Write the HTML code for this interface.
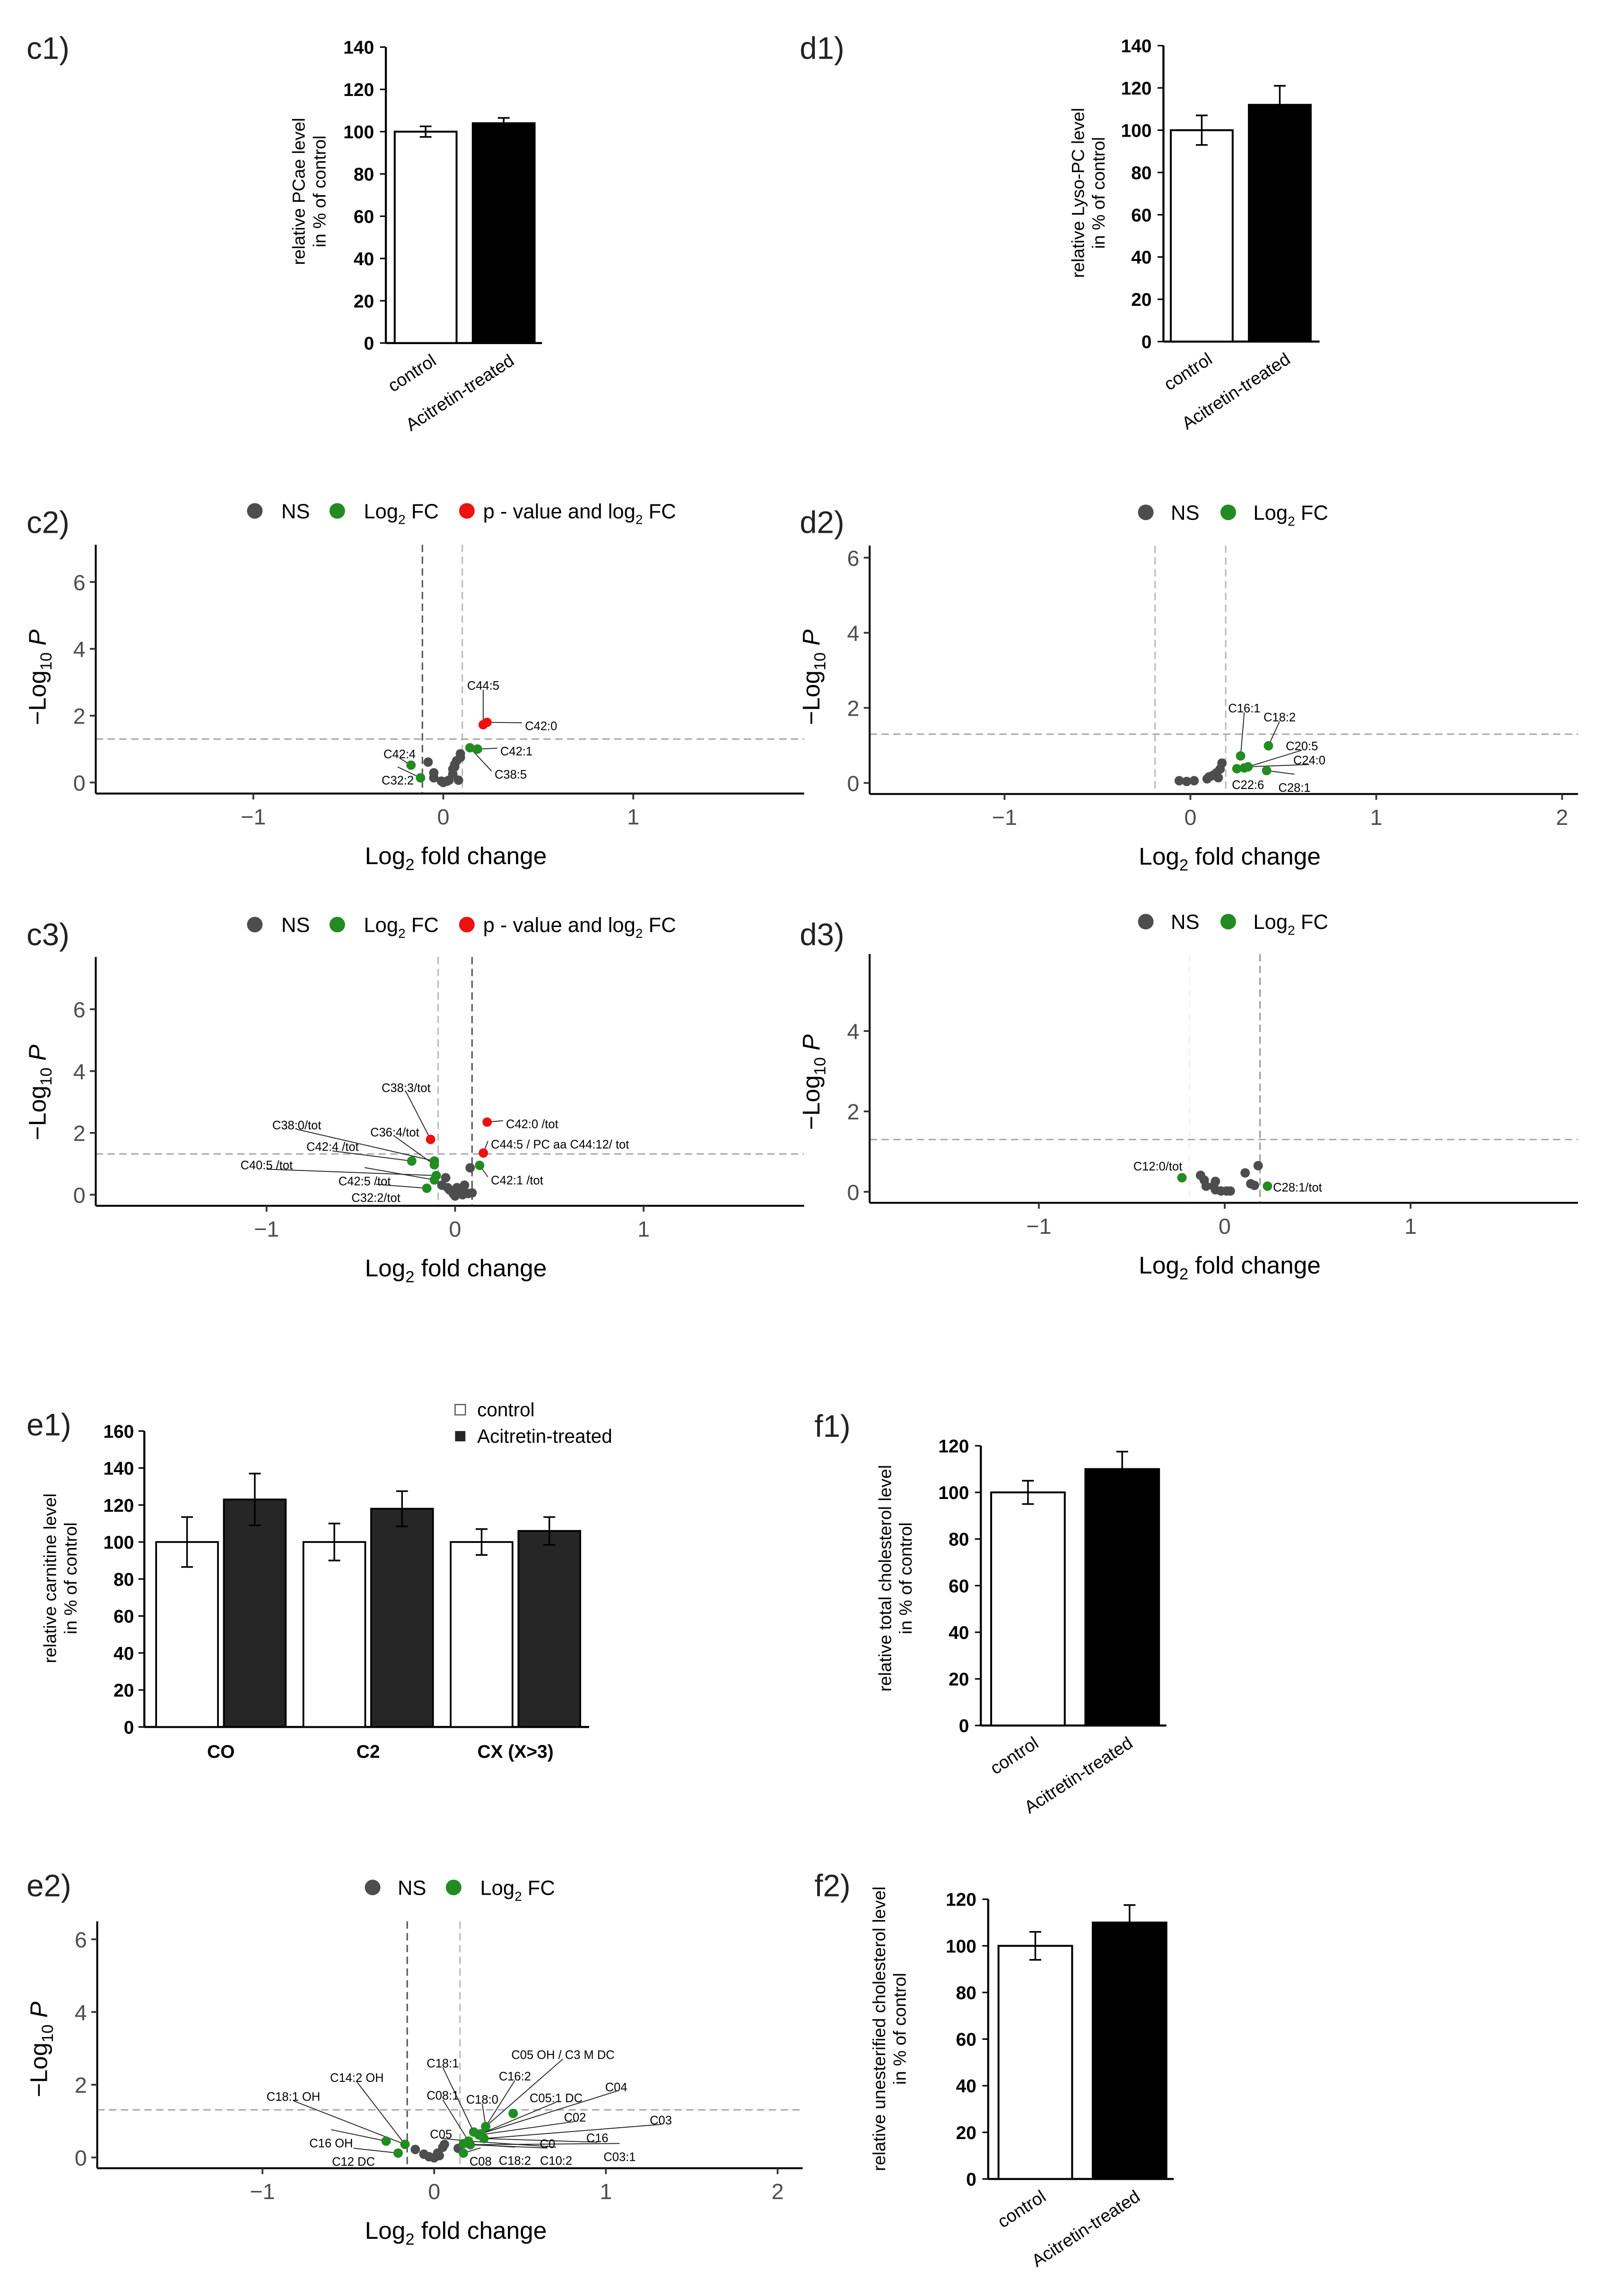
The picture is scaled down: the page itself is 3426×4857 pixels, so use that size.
<!DOCTYPE html>
<html><head><meta charset="utf-8"><style>
html,body{margin:0;padding:0;background:#fff;}
svg{display:block;font-family:"Liberation Sans",Arial,sans-serif;}
</style></head><body>
<svg id="fig" width="3426" height="4857" viewBox="0 0 1100 1559.5" xmlns="http://www.w3.org/2000/svg"></svg>
<script>
// ---------------- DATA ----------------
// c1 PCae bars
const c1_cats=["control","Acitretin-treated"];
const c1_vals=[100,104];
const c1_errs=[2.5,2.5];
const c1_ticks=[0,20,40,60,80,100,120,140];
// d1 Lyso-PC bars
const d1_cats=["control","Acitretin-treated"];
const d1_vals=[100,112];
const d1_errs=[7,9];
const d1_ticks=[0,20,40,60,80,100,120,140];
// e1 carnitine grouped bars
const e1_groups=["CO","C2","CX (X>3)"];
const e1_control=[100,100,100];
const e1_control_err=[13.5,10,7];
const e1_treated=[123,118,106];
const e1_treated_err=[14,9.5,7.5];
const e1_ticks=[0,20,40,60,80,100,120,140,160];
// f1 total cholesterol
const f1_cats=["control","Acitretin-treated"];
const f1_vals=[100,110];
const f1_errs=[5,7.5];
const f1_ticks=[0,20,40,60,80,100,120];
// f2 unesterified cholesterol
const f2_cats=["control","Acitretin-treated"];
const f2_vals=[100,110];
const f2_errs=[6,7.5];
const f2_ticks=[0,20,40,60,80,100,120];

// c2 volcano
const c2_ns_x=[-0.08,-0.05,-0.05,-0.01,0,0.03,0.05,0.06,0.07,0.09,0.09,0.08,0.05,0.02,0.06];
const c2_ns_y=[0.61,0.29,0.14,0.04,0,0.07,0.25,0.47,0.65,0.86,0.75,0.07,0.4,0.04,0.54];
const c2_fc_x=[0.14,0.18,-0.17,-0.12];
const c2_fc_y=[1.04,1.0,0.52,0.14];
const c2_sig_x=[0.21,0.23];
const c2_sig_y=[1.73,1.8];
const c2_lab_text=["C44:5","C42:0","C42:1","C38:5","C42:4","C32:2"];
const c2_lab_x=[0.21,0.43,0.3,0.27,-0.23,-0.24];
const c2_lab_y=[2.91,1.7,0.94,0.25,0.86,0.07];
const c2_lab_group=["sig","sig","fc","fc","fc","fc"];
const c2_lab_idx=[0,1,1,0,2,3];
const c2_lab_anchor=["middle","start","start","start","middle","middle"];
// c3 volcano
const c3_ns_x=[0.08,-0.05,-0.07,-0.04,-0.01,0,0.03,0.05,0.07,0.09,-0.03,0.04,0.01];
const c3_ns_y=[0.87,0.55,0.31,0.23,0.04,-0.04,0.12,0.31,0.04,0.06,0.16,0,0.23];
const c3_fc_x=[0.13,-0.23,-0.11,-0.11,-0.1,-0.11,-0.15];
const c3_fc_y=[0.95,1.09,1.09,0.97,0.62,0.48,0.21];
const c3_sig_x=[0.17,-0.13,0.15];
const c3_sig_y=[2.35,1.79,1.35];
const c3_lab_text=["C38:3/tot","C38:0/tot","C36:4/tot","C42:4 /tot","C40:5 /tot","C42:5 /tot","C32:2/tot","C42:0 /tot","C44:5 / PC aa C44:12/ tot","C42:1 /tot"];
const c3_lab_x=[-0.26,-0.84,-0.32,-0.65,-1.0,-0.48,-0.42,0.27,0.19,0.19];
const c3_lab_y=[3.47,2.26,2.03,1.56,0.97,0.45,-0.09,2.3,1.64,0.48];
const c3_lab_group=["sig","fc","fc","fc","fc","fc","fc","sig","sig","fc"];
const c3_lab_idx=[1,2,3,1,4,5,6,0,2,0];
const c3_lab_anchor=["middle","middle","middle","middle","middle","middle","middle","start","start","start"];
// d2 volcano
const d2_ns_x=[-0.06,-0.02,0.02,0.09,0.12,0.14,0.16,0.17,0.15,0.1];
const d2_ns_y=[0.06,0.04,0.06,0.11,0.2,0.27,0.37,0.53,0.14,0.16];
const d2_fc_x=[0.27,0.42,0.25,0.29,0.31,0.41];
const d2_fc_y=[0.72,0.99,0.38,0.4,0.43,0.33];
const d2_sig_x=[];
const d2_sig_y=[];
const d2_lab_text=["C16:1","C18:2","C20:5","C24:0","C22:6","C28:1"];
const d2_lab_x=[0.29,0.48,0.6,0.64,0.31,0.56];
const d2_lab_y=[2.0,1.76,0.99,0.61,-0.04,-0.12];
const d2_lab_group=["fc","fc","fc","fc","fc","fc"];
const d2_lab_idx=[0,1,3,4,2,5];
const d2_lab_anchor=["middle","middle","middle","middle","middle","middle"];
// d3 volcano
const d3_ns_x=[0.18,0.11,-0.13,-0.11,-0.1,-0.05,-0.05,-0.02,0.01,0.03,0.14,0.16,-0.06];
const d3_ns_y=[0.65,0.47,0.41,0.29,0.14,0.26,0.05,0.02,0.02,0.02,0.2,0.16,0.14];
const d3_fc_x=[-0.23,0.23];
const d3_fc_y=[0.35,0.14];
const d3_sig_x=[];
const d3_sig_y=[];
const d3_lab_text=["C12:0/tot","C28:1/tot"];
const d3_lab_x=[-0.36,0.26];
const d3_lab_y=[0.64,0.12];
const d3_lab_group=["none","none"];
const d3_lab_idx=[0,1];
const d3_lab_anchor=["middle","start"];
// e2 volcano
const e2_ns_x=[-0.11,-0.06,-0.03,0,0.03,0.05,0.06,0.14,0.02];
const e2_ns_y=[0.22,0.09,0.02,-0.01,0.05,0.28,0.36,0.25,0.12];
const e2_fc_x=[-0.28,-0.17,-0.21,0.46,0.3,0.23,0.26,0.29,0.2,0.17,0.17,0.21,0.27];
const e2_fc_y=[0.45,0.36,0.12,1.21,0.85,0.7,0.62,0.52,0.45,0.38,0.12,0.35,0.65];
const e2_sig_x=[];
const e2_sig_y=[];
const e2_lab_text=["C18:1 OH","C14:2 OH","C16 OH","C12 DC","C18:1","C05 OH / C3 M DC","C16:2","C04","C08:1","C18:0","C05:1 DC","C02","C03","C16","C0","C05","C03:1","C10:2","C18:2","C08"];
const e2_lab_x=[-0.82,-0.45,-0.6,-0.47,0.05,0.75,0.47,1.06,0.05,0.28,0.71,0.82,1.32,0.95,0.66,0.04,1.08,0.71,0.47,0.27];
const e2_lab_y=[1.68,2.2,0.4,-0.11,2.6,2.83,2.24,1.94,1.71,1.6,1.64,1.11,1.03,0.54,0.38,0.65,0.02,-0.08,-0.08,-0.1];
const e2_lab_group=["fc","fc","fc","fc","fc","fc","fc","fc","fc","fc","fc","fc","fc","fc","fc","fc","fc","fc","fc","fc"];
const e2_lab_idx=[1,1,0,2,5,4,4,12,8,4,12,6,7,7,11,8,11,8,9,10];
const e2_lab_anchor=["middle","middle","middle","middle","middle","middle","middle","middle","middle","middle","middle","middle","middle","middle","middle","middle","middle","middle","middle","middle"];

// ---------------- DRAWING ----------------
const NS="http://www.w3.org/2000/svg";
const svg=document.getElementById('fig');
function mk(tag,attrs,parent){const e=document.createElementNS(NS,tag);for(const k in attrs)e.setAttribute(k,attrs[k]);(parent||svg).appendChild(e);return e;}
function txt(s,attrs,parent){const e=mk('text',attrs,parent);e.textContent=s;return e;}

function panelLabel(s,x,y){
  const t=txt(s,{x:x,y:y,'font-size':21,fill:'#222'});
  
  
}

function barChart(id,cfg,cats,vals,errs,ticks){
  const g=mk('g',{});
  
  
  const Y=v=>cfg.y0-v*cfg.k;
  const top=Y(ticks[ticks.length-1]);
  const ax=mk('line',{x1:cfg.ax,y1:Y(0),x2:cfg.ax,y2:top,stroke:'#000','stroke-width':1.4},g);
  
  
  const xa=mk('line',{x1:cfg.ax,y1:Y(0),x2:cfg.xr,y2:Y(0),stroke:'#000','stroke-width':1.4},g);
  
  
  ticks.forEach(t=>{
    const tl=mk('line',{x1:cfg.ax-4,y1:Y(t),x2:cfg.ax,y2:Y(t),stroke:'#000','stroke-width':1},g);
    
    
    const tt=txt(String(t),{x:cfg.ax-8,y:Y(t)+4.5,'text-anchor':'end','font-size':12.5,'font-weight':'bold',fill:'#000'},g);
    
    
  });
  vals.forEach((v,i)=>{
    const x=cfg.bx[i];
    const r=mk('rect',{x:x,y:Y(v),width:cfg.bw,height:Y(0)-Y(v),fill:i===0?'#fff':'#000',stroke:'#000','stroke-width':1.3},g);
    
    
    const cx=x+cfg.bw/2;
    const e=mk('path',{d:`M${cx},${Y(v+errs[i])}V${Y(v-errs[i])}M${cx-4},${Y(v+errs[i])}H${cx+4}M${cx-4},${Y(v-errs[i])}H${cx+4}`,stroke:'#000','stroke-width':1.1,fill:'none'},g);
    
    
    const lx=cx+8, ly=Y(0)+14;
    const lab=txt(cats[i],{x:lx,y:ly,'text-anchor':'end','font-size':12,fill:'#000',transform:`rotate(-33 ${lx} ${ly})`},g);
    
    
  });
  cfg.ylab.forEach((s,j)=>{
    const x=cfg.ylx+j*14, y=cfg.yly;
    const t=txt(s,{x:x,y:y,'text-anchor':'middle','font-size':12,fill:'#000',transform:`rotate(-90 ${x} ${y})`},g);
    
    
  });
}

function legend(items,y,parent){
  items.forEach(it=>{
    const c=mk('circle',{cx:it[0],cy:y,r:5.3,fill:it[2]},parent);
    
    
    const t=mk('text',{x:it[1],y:y+5,'font-size':14,fill:'#000'},parent);
    
    
    it[3].forEach(part=>{const ts=mk('tspan',part[1]?{'font-size':9,dy:4}:{dy:part[2]||0},t);ts.textContent=part[0];});
  });
}

function volcano(id,cfg,nsx,nsy,fcx,fcy,sgx,sgy,lt,lx,ly,lg,li,la){
  const g=mk('g',{});
  
  
  const X=v=>cfg.x0+v*cfg.kx, Y=v=>cfg.y0-v*cfg.ky;
  cfg.vl.forEach(v=>{
    const l=mk('line',{x1:X(v[0]),y1:cfg.top,x2:X(v[0]),y2:cfg.axY,stroke:v[1],'stroke-width':1,'stroke-dasharray':'5,3'},g);
    
    
  });
  const h=mk('line',{x1:cfg.axX,y1:Y(cfg.hl),x2:cfg.right,y2:Y(cfg.hl),stroke:'#aaa','stroke-width':1,'stroke-dasharray':'5,3'},g);
  
  
  const ya=mk('line',{x1:cfg.axX,y1:cfg.top,x2:cfg.axX,y2:cfg.axY,stroke:'#000','stroke-width':1.3},g);
  
  
  const xa=mk('line',{x1:cfg.axX,y1:cfg.axY,x2:cfg.right,y2:cfg.axY,stroke:'#000','stroke-width':1.3},g);
  
  
  cfg.xt.forEach(t=>{
    const tl=mk('line',{x1:X(t),y1:cfg.axY,x2:X(t),y2:cfg.axY+4,stroke:'#333','stroke-width':1.2},g);
    
    
    const tt=txt(t<0?'\u2212'+(-t):String(t),{x:X(t),y:cfg.axY+21,'text-anchor':'middle','font-size':15,fill:'#4d4d4d'},g);
    
    
  });
  cfg.yt.forEach(t=>{
    const tl=mk('line',{x1:cfg.axX-4,y1:Y(t),x2:cfg.axX,y2:Y(t),stroke:'#333','stroke-width':1.2},g);
    
    
    const tt=txt(String(t),{x:cfg.axX-7,y:Y(t)+5.5,'text-anchor':'end','font-size':15,fill:'#4d4d4d'},g);
    
    
  });
  // axis titles
  const xt=mk('text',{x:(cfg.axX+cfg.right)/2+4,y:cfg.axY+48,'text-anchor':'middle','font-size':16.5,fill:'#000'},g);
  
  
  [['Log',0],['2',1],[' fold change',2]].forEach(p=>{const ts=mk('tspan',p[1]===1?{'font-size':11,dy:4}:(p[1]===2?{dy:-4}:{}),xt);ts.textContent=p[0];});
  const yx=cfg.axX-34, yy=cfg.yty;
  const yt=mk('text',{x:yx,y:yy,'text-anchor':'middle','font-size':16.5,fill:'#000',transform:`rotate(-90 ${yx} ${yy})`},g);
  
  
  [['\u2212Log',0],['10',1],[' P',2]].forEach(p=>{const ts=mk('tspan',p[1]===1?{'font-size':11,dy:4}:(p[1]===2?{dy:-4,'font-style':'italic'}:{}),yt);ts.textContent=p[0];});
  // label lines
  const groups={ns:[nsx,nsy],fc:[fcx,fcy],sig:[sgx,sgy]};
  lt.forEach((s,i)=>{
    if(lg[i]!=='none'){
      const arr=groups[lg[i]];
      const px=X(arr[0][li[i]]), py=Y(arr[1][li[i]]);
      const tx=X(lx[i]), ty=Y(ly[i]);
      const ex=la[i]==='start'?tx-2:tx, ey=la[i]==='start'?ty-2:(ty<py?ty+3:ty-9);
      const l=mk('line',{x1:ex,y1:ey,x2:px,y2:py,stroke:'#222','stroke-width':0.6},g);
      
      
    }
  });
  const pts=(xs,ys,col,nm)=>xs.forEach((v,i)=>{
    const c=mk('circle',{cx:X(v),cy:Y(ys[i]),r:3.2,fill:col},g);
    
    
  });
  pts(nsx,nsy,'#4d4d4d','point-ns');
  pts(fcx,fcy,'#228b22','point-log2fc');
  pts(sgx,sgy,'#ee1111','point-significant');
  lt.forEach((s,i)=>{
    const t=txt(s,{x:X(lx[i]),y:Y(ly[i])+3,'text-anchor':la[i],'font-size':8.2,fill:'#000'},g);
    
    
  });
  legend(cfg.leg,cfg.legY,g);
}

// panel labels
[["c1)",18,40],["d1)",543,40],["c2)",18,362],["d2)",543,362],["c3)",18,642],["d3)",543,642],["e1)",18,975],["f1)",553,976],["e2)",18,1288],["f2)",553,1288]].forEach(p=>panelLabel(p[0],p[1],p[2]));

barChart('c1',{ax:262,y0:233,k:201/140,xr:368,bx:[268,321],bw:42,ylab:['relative PCae level','in % of control'],ylx:207,yly:130},c1_cats,c1_vals,c1_errs,c1_ticks);
barChart('d1',{ax:790,y0:232,k:201/140,xr:896,bx:[795,848],bw:42,ylab:['relative Lyso-PC level','in % of control'],ylx:736,yly:131},d1_cats,d1_vals,d1_errs,d1_ticks);
barChart('f1',{ax:666,y0:1172,k:190/120,xr:792,bx:[673,737],bw:50,ylab:['relative total cholesterol level','in % of control'],ylx:605,yly:1072},f1_cats,f1_vals,f1_errs,f1_ticks);
barChart('f2',{ax:671,y0:1480,k:190/120,xr:797,bx:[678,742],bw:50,ylab:['relative unesterified cholesterol level','in % of control'],ylx:601,yly:1378},f2_cats,f2_vals,f2_errs,f2_ticks);

// e1 grouped
(function(){
  const g=mk('g',{});
  
  
  const ax=98,y0=1173,k=201/160;
  const Y=v=>y0-v*k;
  const ya=mk('line',{x1:ax,y1:y0,x2:ax,y2:Y(160),stroke:'#000','stroke-width':1.4},g);
  
  
  const xa=mk('line',{x1:ax,y1:y0,x2:400,y2:y0,stroke:'#000','stroke-width':1.4},g);
  
  
  e1_ticks.forEach(t=>{
    const tl=mk('line',{x1:ax-4,y1:Y(t),x2:ax,y2:Y(t),stroke:'#000'},g);
    
    
    const tt=txt(String(t),{x:ax-7,y:Y(t)+4.5,'text-anchor':'end','font-size':12.5,'font-weight':'bold'},g);
    
    
  });
  e1_groups.forEach((name,i)=>{
    const gx=106+i*100;
    [[e1_control,e1_control_err,'#fff',0],[e1_treated,e1_treated_err,'#262626',46]].forEach(s=>{
      const v=s[0][i], er=s[1][i], x=gx+s[3];
      const r=mk('rect',{x:x,y:Y(v),width:42,height:y0-Y(v),fill:s[2],stroke:'#000','stroke-width':1.2},g);
      
      
      const cx=x+21;
      const e=mk('path',{d:`M${cx},${Y(v+er)}V${Y(v-er)}M${cx-4},${Y(v+er)}H${cx+4}M${cx-4},${Y(v-er)}H${cx+4}`,stroke:'#000','stroke-width':1.1,fill:'none'},g);
      
      
    });
    const l=txt(name,{x:gx+44,y:1194,'text-anchor':'middle','font-size':12.5,'font-weight':'bold'},g);
    
    
  });
  ['relative carnitine level','in % of control'].forEach((s,j)=>{
    const x=38+j*14,y=1072;
    const t=txt(s,{x:x,y:y,'text-anchor':'middle','font-size':12,transform:`rotate(-90 ${x} ${y})`},g);
    
    
  });
  const s1=mk('rect',{x:309,y:954,width:7,height:7,fill:'#fff',stroke:'#555','stroke-width':0.8},g);
  
  
  const t1=txt('control',{x:324,y:962,'font-size':13},g);
  
  
  const s2=mk('rect',{x:309,y:972,width:7,height:7,fill:'#262626'},g);
  
  
  const t2=txt('Acitretin-treated',{x:324,y:980,'font-size':13},g);
  
  
})();

const L3=(y)=>[[173,191,'#4d4d4d',[['NS']]],[229,247,'#228b22',[['Log'],['2',1],[' FC',0,-4]]],[317,328,'#ee1111',[['p - value and log'],['2',1],[' FC',0,-4]]]];
const L2=(a,b,c,d)=>[[a,b,'#4d4d4d',[['NS']]],[c,d,'#228b22',[['Log'],['2',1],[' FC',0,-4]]]];

volcano('c2',{x0:301,kx:129,y0:531.5,ky:22.7,axX:65,axY:539,top:370,right:546,xt:[-1,0,1],yt:[0,2,4,6],vl:[[-0.11,'#555'],[0.10,'#bbb']],hl:1.3,yty:460,leg:L3(),legY:347},
  c2_ns_x,c2_ns_y,c2_fc_x,c2_fc_y,c2_sig_x,c2_sig_y,c2_lab_text,c2_lab_x,c2_lab_y,c2_lab_group,c2_lab_idx,c2_lab_anchor);
volcano('c3',{x0:309,kx:128,y0:811.5,ky:21,axX:65,axY:819,top:650,right:546,xt:[-1,0,1],yt:[0,2,4,6],vl:[[-0.09,'#bbb'],[0.09,'#555']],hl:1.32,yty:742,leg:L3(),legY:628},
  c3_ns_x,c3_ns_y,c3_fc_x,c3_fc_y,c3_sig_x,c3_sig_y,c3_lab_text,c3_lab_x,c3_lab_y,c3_lab_group,c3_lab_idx,c3_lab_anchor);
volcano('d2',{x0:808.3,kx:126.2,y0:531.8,ky:25.5,axX:590.5,axY:539.3,top:370.6,right:1071.5,xt:[-1,0,1,2],yt:[0,2,4,6],vl:[[-0.19,'#bbb'],[0.19,'#bbb']],hl:1.3,yty:460,leg:L2(778,795,834,851),legY:348},
  d2_ns_x,d2_ns_y,d2_fc_x,d2_fc_y,d2_sig_x,d2_sig_y,d2_lab_text,d2_lab_x,d2_lab_y,d2_lab_group,d2_lab_idx,d2_lab_anchor);
volcano('d3',{x0:831.6,kx:126.2,y0:809.5,ky:27.3,axX:590.5,axY:817,top:648,right:1071.5,xt:[-1,0,1],yt:[0,2,4],vl:[[-0.19,'#f2f2f2'],[0.19,'#999']],hl:1.3,yty:735,leg:L2(778,795,834,851),legY:626},
  d3_ns_x,d3_ns_y,d3_fc_x,d3_fc_y,d3_sig_x,d3_sig_y,d3_lab_text,d3_lab_x,d3_lab_y,d3_lab_group,d3_lab_idx,d3_lab_anchor);
volcano('e2',{x0:294.8,kx:116.6,y0:1465.4,ky:24.7,axX:66,axY:1472.7,top:1305,right:545,xt:[-1,0,1,2],yt:[0,2,4,6],vl:[[-0.157,'#555'],[0.15,'#bbb']],hl:1.31,yty:1392,leg:L2(253,270,308,326),legY:1282},
  e2_ns_x,e2_ns_y,e2_fc_x,e2_fc_y,e2_sig_x,e2_sig_y,e2_lab_text,e2_lab_x,e2_lab_y,e2_lab_group,e2_lab_idx,e2_lab_anchor);
</script>
</body></html>
